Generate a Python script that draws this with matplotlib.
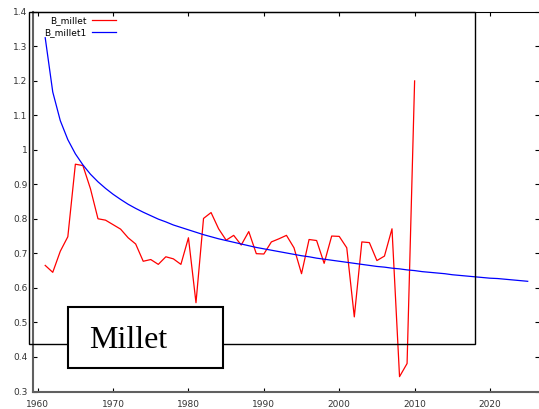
import matplotlib
matplotlib.use("Agg")
import matplotlib.pyplot as plt
from matplotlib.patches import Rectangle

# observed series, one value per year 1961-2010
years_obs = list(range(1961, 2011))
b_millet = [
    0.665, 0.645, 0.706, 0.748, 0.958, 0.954, 0.887, 0.800, 0.796, 0.783,
    0.770, 0.745, 0.727, 0.677, 0.682, 0.668, 0.690, 0.684, 0.668, 0.745,
    0.557, 0.801, 0.818, 0.771, 0.738, 0.752, 0.724, 0.763, 0.699, 0.698,
    0.733, 0.742, 0.752, 0.716, 0.641, 0.740, 0.737, 0.671, 0.750, 0.749,
    0.716, 0.516, 0.733, 0.731, 0.679, 0.692, 0.771, 0.343, 0.381, 1.199,
]

# fitted curve, 1961-2025
years_fit = list(range(1961, 2026))
b_millet1 = [
    1.324, 1.167, 1.084, 1.029, 0.988, 0.956, 0.929, 0.907, 0.888, 0.871,
    0.856, 0.842, 0.830, 0.819, 0.809, 0.799, 0.791, 0.782, 0.775, 0.768,
    0.761, 0.754, 0.748, 0.742, 0.737, 0.732, 0.727, 0.722, 0.717, 0.713,
    0.709, 0.705, 0.701, 0.697, 0.693, 0.690, 0.686, 0.683, 0.680, 0.677,
    0.674, 0.671, 0.668, 0.665, 0.662, 0.660, 0.657, 0.655, 0.652, 0.650,
    0.647, 0.645, 0.643, 0.641, 0.638, 0.636, 0.634, 0.632, 0.630, 0.628,
    0.627, 0.625, 0.623, 0.621, 0.619,
]

x_ticks = [1960, 1970, 1980, 1990, 2000, 2010, 2020]
y_ticks = [0.3, 0.4, 0.5, 0.6, 0.7, 0.8, 0.9, 1.0, 1.1, 1.2, 1.3, 1.4]
y_labels = ["0.3", "0.4", "0.5", "0.6", "0.7", "0.8", "0.9", "1", "1.1", "1.2", "1.3", "1.4"]

W, H = 539, 409
fig = plt.figure(figsize=(W / 100, H / 100), dpi=100)
ax = fig.add_axes([33 / W, 1 - 391.5 / H, 506 / W, 380 / H])

ax.plot(years_obs, b_millet, color="#ff0000", lw=0.9, label="B_millet")
ax.plot(years_fit, b_millet1, color="#0000ff", lw=0.9, label="B_millet1")

ax.set_xlim(1959.38, 2026.5)
ax.set_ylim(0.3, 1.4)
ax.set_xticks(x_ticks)
ax.set_yticks(y_ticks)
ax.set_yticklabels(y_labels)
ax.tick_params(direction="in", length=3, width=0.8, labelsize=6.5,
               labelcolor="#333333", top=True, right=True)
ax.tick_params(axis="y", pad=4)
ax.tick_params(axis="x", pad=6)

for side in ["left", "bottom"]:
    ax.spines[side].set_linewidth(1.5)
    ax.spines[side].set_color("#606060")
ax.spines["top"].set_linewidth(0.8)
ax.spines["top"].set_color("black")
ax.spines["right"].set_visible(False)

ax.legend(loc="upper right", bbox_to_anchor=(116 / W, 1 - 16.5 / H),
          bbox_transform=fig.transFigure, frameon=False, markerfirst=False,
          fontsize=6.5, handlelength=2.7, handletextpad=0.6,
          borderpad=0, borderaxespad=0, labelspacing=0.25)

# outer frame and the title box
fig.patches.append(Rectangle((29 / W, 1 - 344 / H), 446 / W, 332.5 / H,
                             transform=fig.transFigure, fill=False,
                             edgecolor="black", lw=1.0, zorder=5))
fig.patches.append(Rectangle((68 / W, 1 - 368 / H), 155 / W, 61 / H,
                             transform=fig.transFigure, facecolor="white",
                             edgecolor="black", lw=1.5, zorder=6))
fig.text(89 / W, 1 - 348 / H, "Millet", family="Liberation Serif",
         fontsize=23, ha="left", va="baseline", zorder=7)

fig.savefig("out.png", dpi=100)
